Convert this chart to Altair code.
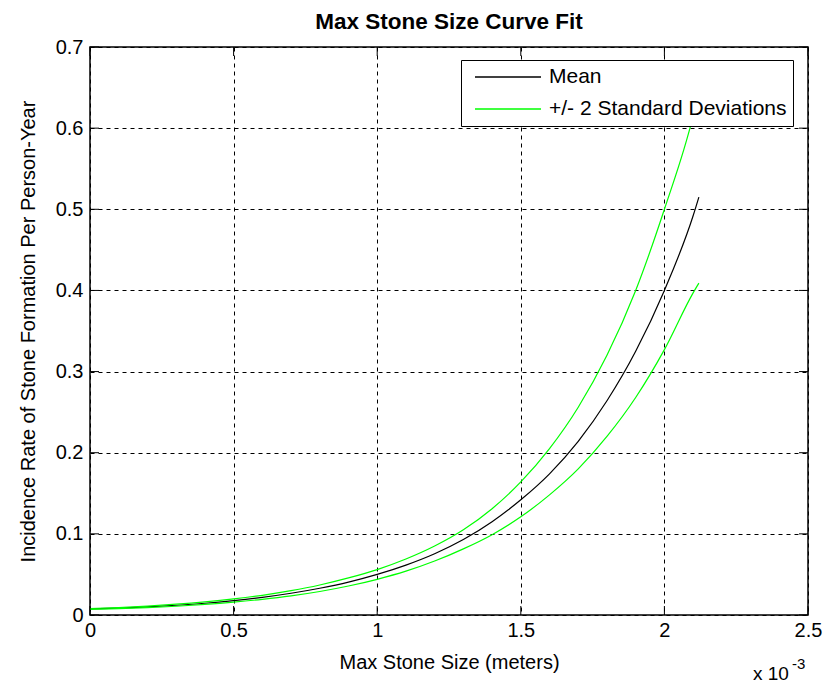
import altair as alt
import pandas as pd

# x in units of 1e-3 meters
x_vals = [0, 0.1, 0.2, 0.3, 0.4, 0.5, 0.6, 0.7, 0.8, 0.9, 1.0, 1.1, 1.2, 1.3,
          1.4, 1.5, 1.6, 1.7, 1.8, 1.9, 2.0, 2.1, 2.12]
mean_vals = [0.0075, 0.0085, 0.0100, 0.0120, 0.0145, 0.0178, 0.0218, 0.0268,
             0.0330, 0.0405, 0.0500, 0.0615, 0.0755, 0.0930, 0.1150, 0.1420,
             0.1740, 0.2140, 0.2640, 0.3250, 0.4000, 0.4920, 0.5150]
upper_vals = [0.0080, 0.0092, 0.0110, 0.0133, 0.0162, 0.0198, 0.0243, 0.0300,
              0.0370, 0.0457, 0.0560, 0.0690, 0.0850, 0.1050, 0.1310, 0.1640,
              0.2050, 0.2560, 0.3200, 0.4000, 0.5000, 0.6150, 0.6450]
lower_vals = [0.0070, 0.0078, 0.0091, 0.0108, 0.0130, 0.0158, 0.0193, 0.0236,
              0.0290, 0.0357, 0.0440, 0.0540, 0.0665, 0.0815, 0.0990, 0.1210,
              0.1480, 0.1800, 0.2200, 0.2680, 0.3270, 0.3970, 0.4090]
series_names = ["Mean", "+/- 2 Standard Deviations"]
series_colors = ["#000000", "#00ff00"]
x_ticks = [0, 0.5, 1.0, 1.5, 2.0, 2.5]
y_ticks = [0, 0.1, 0.2, 0.3, 0.4, 0.5, 0.6, 0.7]

rows = []
for line_id, name, vals in [("mean", series_names[0], mean_vals),
                            ("upper", series_names[1], upper_vals),
                            ("lower", series_names[1], lower_vals)]:
    for xv, yv in zip(x_vals, vals):
        rows.append({"x": xv, "y": yv, "series": name, "line": line_id})
df = pd.DataFrame(rows)
xt = pd.DataFrame({"v": x_ticks})
yt = pd.DataFrame({"v": y_ticks})

W, H = 718, 568
FONT = "Liberation Sans"

xscale = alt.Scale(domain=[0, 2.5], nice=False, zero=False)
yscale = alt.Scale(domain=[0, 0.7], nice=False, zero=False)

xaxis = alt.Axis(values=x_ticks, format=".1~f", title="Max Stone Size (meters)",
                 grid=True, gridDash=[4, 4], gridColor="black", gridOpacity=1,
                 gridWidth=1, ticks=False, domain=False, labelFlush=False,
                 labelPadding=5, titlePadding=12, labelFontSize=20, titleFontSize=20,
                 labelFont=FONT, titleFont=FONT, labelColor="black", titleColor="black",
                 titleFontWeight="normal")
yaxis = alt.Axis(values=y_ticks, format=".1~f",
                 title="Incidence Rate of Stone Formation Per Person-Year",
                 grid=True, gridDash=[4, 4], gridColor="black", gridOpacity=1,
                 gridWidth=1, ticks=False, domain=False, labelFlush=False,
                 labelPadding=7, titlePadding=17, labelFontSize=20, titleFontSize=20,
                 labelFont=FONT, titleFont=FONT, labelColor="black", titleColor="black",
                 titleFontWeight="normal")

lines = alt.Chart(df).mark_line(strokeWidth=1.2, interpolate="monotone").encode(
    x=alt.X("x:Q", scale=xscale, axis=xaxis),
    y=alt.Y("y:Q", scale=yscale, axis=yaxis),
    color=alt.Color("series:N",
                    scale=alt.Scale(domain=series_names, range=series_colors),
                    sort=series_names,
                    legend=alt.Legend(title=None, orient="none", legendX=371, legendY=13,
                                      strokeColor="black", fillColor="white",
                                      padding=6, cornerRadius=0,
                                      symbolType="stroke", symbolSize=4356,
                                      symbolStrokeWidth=1.3, symbolOffset=7,
                                      clipHeight=22, rowPadding=10,
                                      labelFontSize=21, labelFont=FONT,
                                      labelColor="black", labelOffset=7,
                                      labelLimit=400)),
    detail="line:N",
)

bottom_ticks = alt.Chart(xt).mark_rule(color="black", strokeWidth=1).encode(
    x=alt.X("v:Q", scale=xscale, axis=xaxis), y=alt.value(H), y2=alt.value(H - 9))
top_ticks = alt.Chart(xt).mark_rule(color="black", strokeWidth=1).encode(
    x=alt.X("v:Q", scale=xscale, axis=xaxis), y=alt.value(0), y2=alt.value(9))
left_ticks = alt.Chart(yt).mark_rule(color="black", strokeWidth=1).encode(
    y=alt.Y("v:Q", scale=yscale, axis=yaxis), x=alt.value(0), x2=alt.value(9))
right_ticks = alt.Chart(yt).mark_rule(color="black", strokeWidth=1).encode(
    y=alt.Y("v:Q", scale=yscale, axis=yaxis), x=alt.value(W), x2=alt.value(W - 9))

mult = alt.Chart(pd.DataFrame({"t": ["x 10"]})).mark_text(
    align="left", baseline="alphabetic", fontSize=19, font=FONT, color="black"
).encode(text="t:N", x=alt.value(663), y=alt.value(633))
expo = alt.Chart(pd.DataFrame({"t": ["-3"]})).mark_text(
    align="left", baseline="alphabetic", fontSize=15, font=FONT, color="black"
).encode(text="t:N", x=alt.value(702), y=alt.value(622))

chart = alt.layer(lines, bottom_ticks, top_ticks, left_ticks, right_ticks, mult, expo).properties(
    width=W, height=H,
    title=alt.TitleParams("Max Stone Size Curve Fit", font=FONT, fontSize=22.5,
                          fontWeight="bold", color="black", offset=4, anchor="middle"),
    autosize=alt.AutoSizeParams(type="none"),
    padding={"left": 90, "top": 47, "right": 18, "bottom": 69},
    background="white",
).configure_view(stroke="black", strokeWidth=1.5)

chart.save("out.html", embed_options={"renderer": "svg", "actions": False})
